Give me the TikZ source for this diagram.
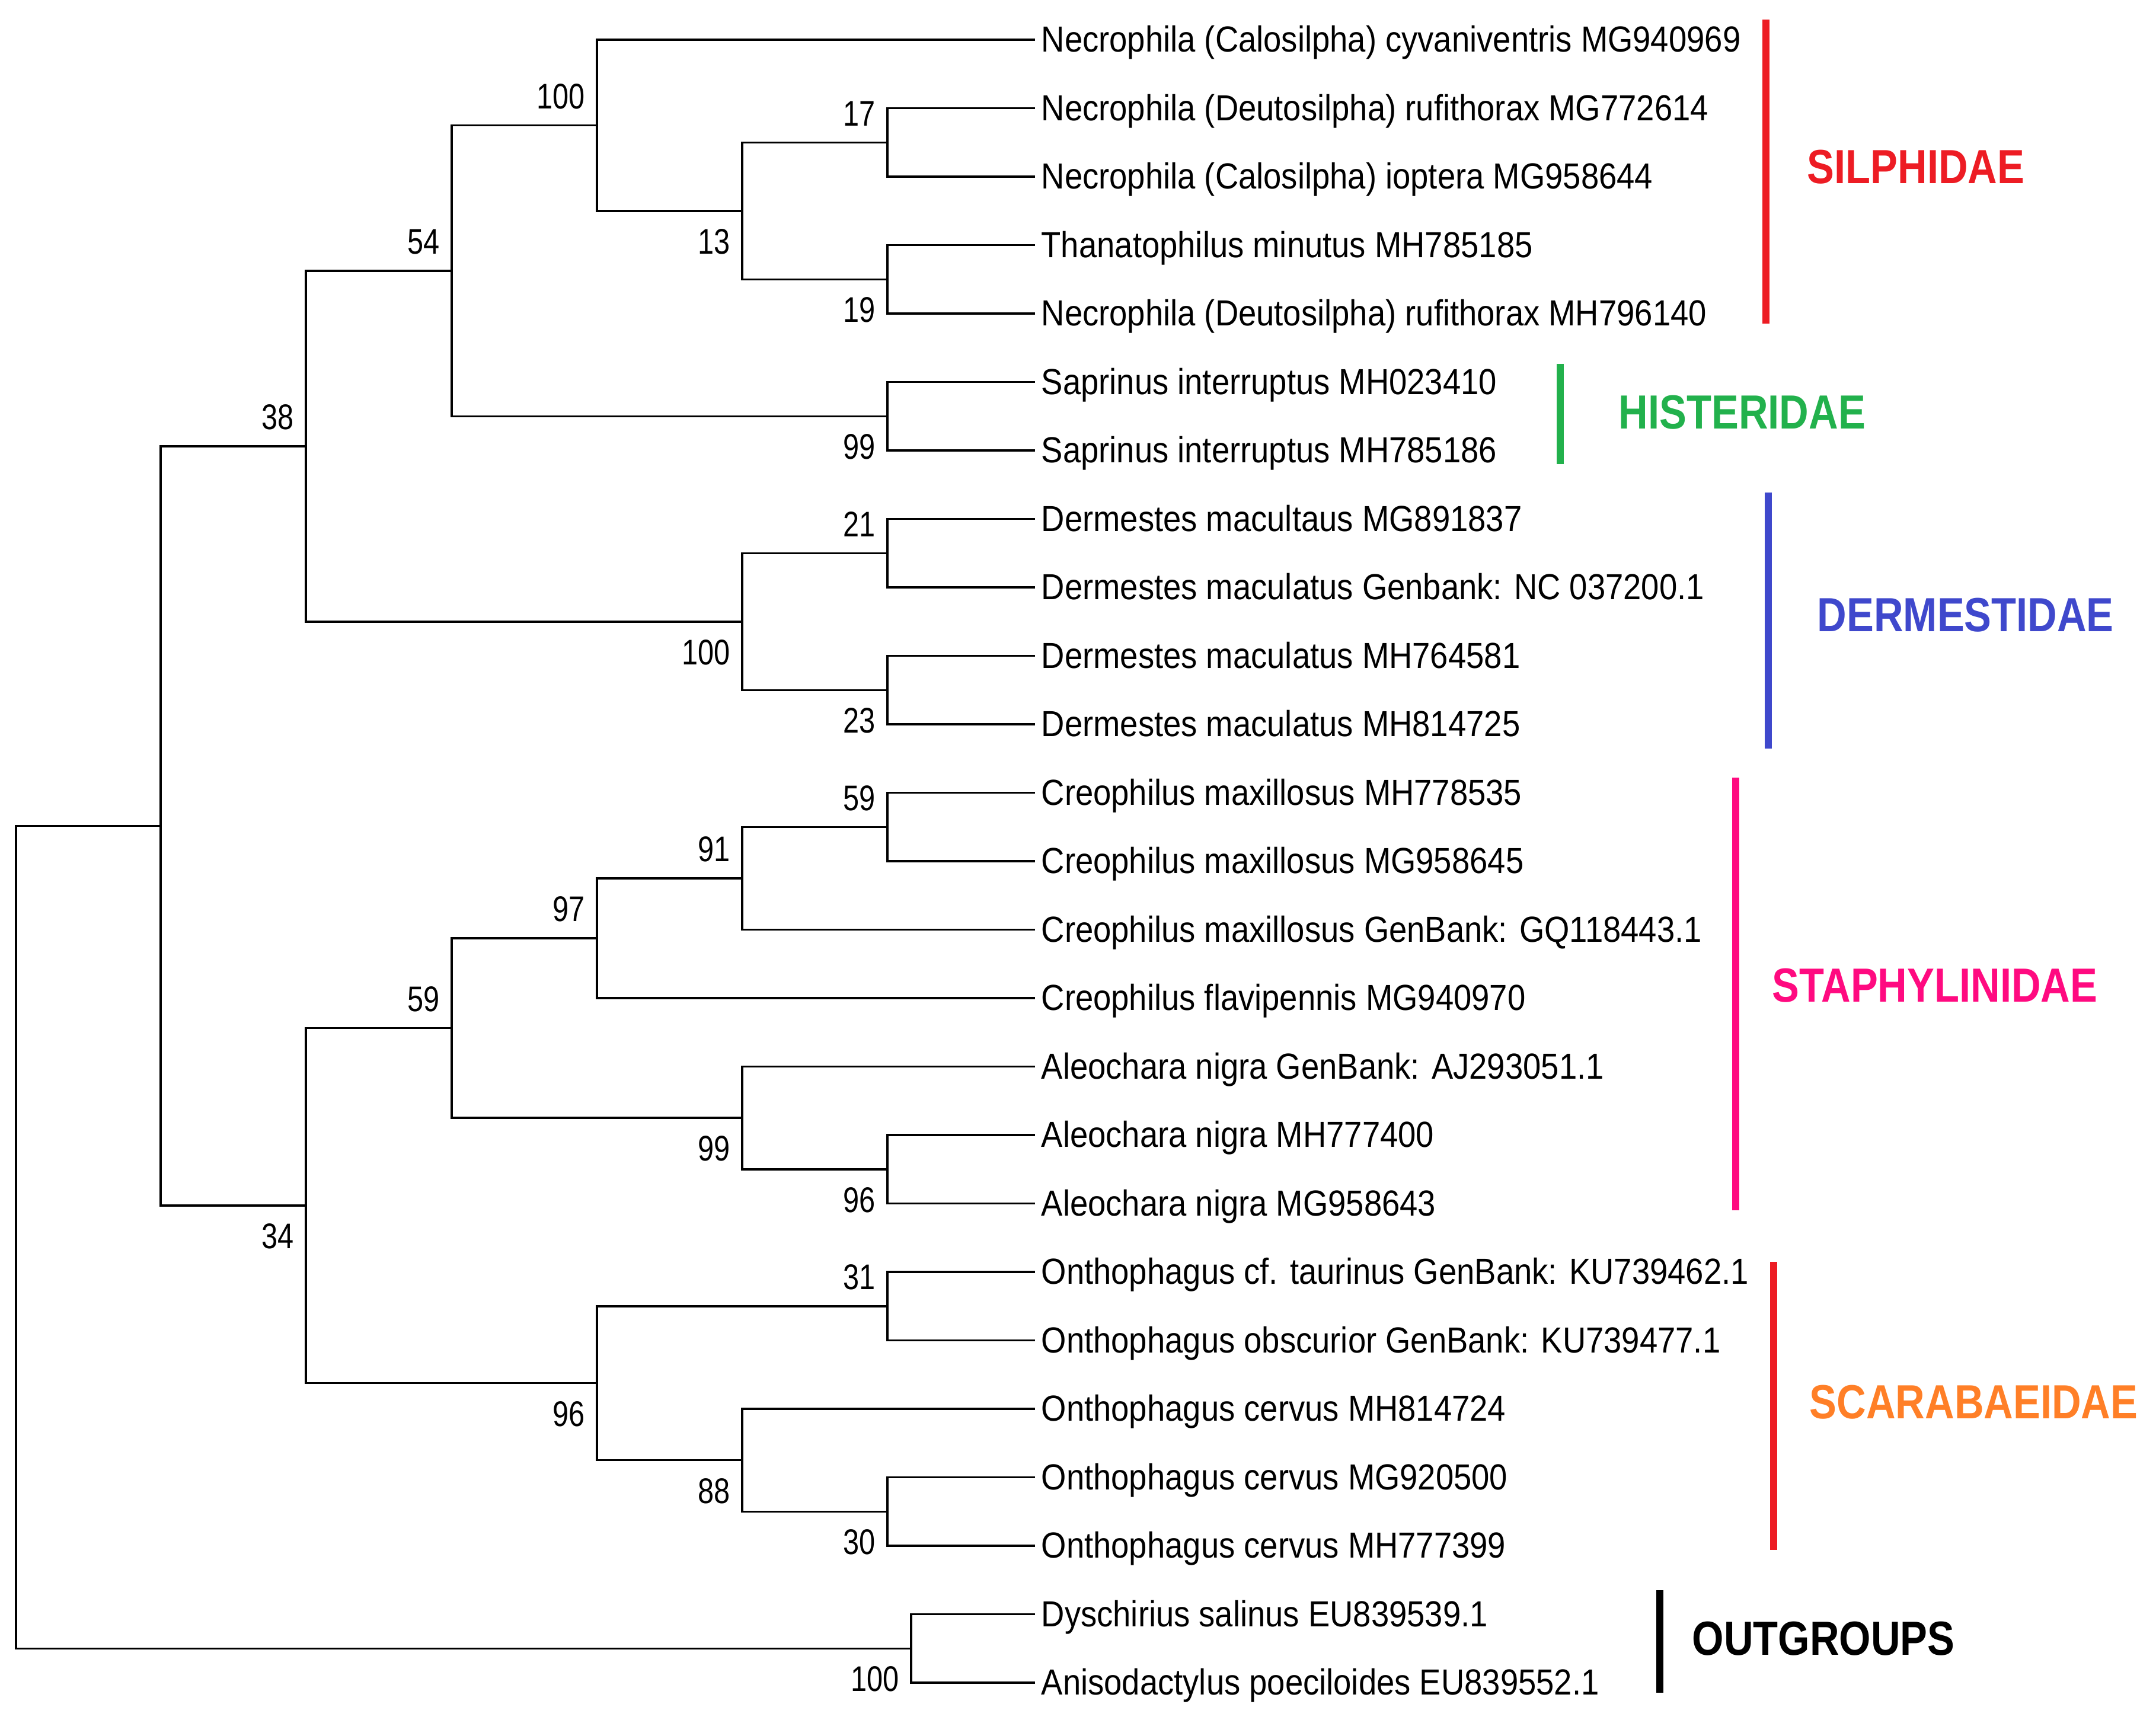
\documentclass[tikz,border=0pt]{standalone}
\usepackage{fontspec}
\setmainfont{Liberation Sans}
\newfontfamily\leaffont[FakeStretch=0.89]{Liberation Sans}
\newfontfamily\bootfont[FakeStretch=0.81]{Liberation Sans}
\newfontfamily\cladefont[FakeStretch=0.85]{Liberation Sans}
\definecolor{silphred}{HTML}{ED1C24}
\definecolor{histgreen}{HTML}{22B14C}
\definecolor{dermblue}{HTML}{3F48CC}
\definecolor{staphpink}{HTML}{FF0A80}
\definecolor{scaraborange}{HTML}{FF7F27}
\tikzset{
  branch/.style={line width=0.035cm},
  leaf/.style={anchor=west, inner xsep=0.1cm, inner ysep=0pt,
    text height=0.616cm, text depth=0.2cm,
    font=\leaffont\fontsize{17.4}{20}\selectfont},
  boot up/.style={anchor=south east, inner sep=0pt, xshift=-0.2cm, yshift=0.27cm,
    font=\bootfont\fontsize{17.1}{20}\selectfont},
  boot down/.style={anchor=north east, inner sep=0pt, xshift=-0.2cm, yshift=-0.3cm,
    font=\bootfont\fontsize{17.1}{20}\selectfont},
  cladebar/.style={line width=0.12cm},
  cladename/.style={anchor=west, inner sep=0pt,
    font=\cladefont\bfseries\fontsize{23}{26}\selectfont},
}
\begin{document}
\begin{tikzpicture}
                \useasboundingbox (0,0) rectangle (36.37,-29.02);
                
                % Placing leaves
                \node [leaf] (cyv)   at (17.46,-0.670)  {Necrophila (Calosilpha) cyvaniventris MG940969};
                \node [leaf] (rufa)  at (17.46,-1.825)  {Necrophila (Deutosilpha) rufithorax MG772614};
                \node [leaf] (iop)   at (17.46,-2.980)  {Necrophila (Calosilpha) ioptera MG958644};
                \node [leaf] (tmin)  at (17.46,-4.135)  {Thanatophilus minutus MH785185};
                \node [leaf] (rufb)  at (17.46,-5.290)  {Necrophila (Deutosilpha) rufithorax MH796140};
                \node [leaf] (sapa)  at (17.46,-6.445)  {Saprinus interruptus MH023410};
                \node [leaf] (sapb)  at (17.46,-7.600)  {Saprinus interruptus MH785186};
                \node [leaf] (derma) at (17.46,-8.755)  {Dermestes macultaus MG891837};
                \node [leaf] (dermb) at (17.46,-9.910)  {Dermestes maculatus Genbank: NC 037200.1};
                \node [leaf] (dermc) at (17.46,-11.065) {Dermestes maculatus MH764581};
                \node [leaf] (dermd) at (17.46,-12.220) {Dermestes maculatus MH814725};
                \node [leaf] (crea)  at (17.46,-13.375) {Creophilus maxillosus MH778535};
                \node [leaf] (creb)  at (17.46,-14.530) {Creophilus maxillosus MG958645};
                \node [leaf] (crec)  at (17.46,-15.685) {Creophilus maxillosus GenBank: GQ118443.1};
                \node [leaf] (cfla)  at (17.46,-16.840) {Creophilus flavipennis MG940970};
                \node [leaf] (alea)  at (17.46,-17.995) {Aleochara nigra GenBank: AJ293051.1};
                \node [leaf] (aleb)  at (17.46,-19.150) {Aleochara nigra MH777400};
                \node [leaf] (alec)  at (17.46,-20.305) {Aleochara nigra MG958643};
                \node [leaf] (otau)  at (17.46,-21.460) {Onthophagus cf. taurinus GenBank: KU739462.1};
                \node [leaf] (oobs)  at (17.46,-22.615) {Onthophagus obscurior GenBank: KU739477.1};
                \node [leaf] (ocea)  at (17.46,-23.770) {Onthophagus cervus MH814724};
                \node [leaf] (oceb)  at (17.46,-24.925) {Onthophagus cervus MG920500};
                \node [leaf] (ocec)  at (17.46,-26.080) {Onthophagus cervus MH777399};
                \node [leaf] (dysc)  at (17.46,-27.235) {Dyschirius salinus EU839539.1};
                \node [leaf] (anis)  at (17.46,-28.390) {Anisodactylus poeciloides EU839552.1};
                
                % Placing inner nodes
                \coordinate (nroot)  at (0.27,-20.873);
                \coordinate (ningr)  at (2.71,-13.934);
                \coordinate (nthree) at (5.16,-7.528);
                \coordinate (nfour)  at (5.16,-20.341);
                \coordinate (nsilhi) at (7.62,-4.568);
                \coordinate (nstaph) at (7.62,-17.345);
                \coordinate (nsilph) at (10.07,-2.114);
                \coordinate (ncreo)  at (10.07,-15.829);
                \coordinate (nscar)  at (10.07,-23.337);
                \coordinate (nnecro) at (12.52,-3.558);
                \coordinate (nderm)  at (12.52,-10.488);
                \coordinate (nmaxi)  at (12.52,-14.819);
                \coordinate (naleo)  at (12.52,-18.861);
                \coordinate (ncerv)  at (12.52,-24.636);
                \coordinate (nrufa)  at (14.97,-2.403);
                \coordinate (nrufb)  at (14.97,-4.713);
                \coordinate (nsapr)  at (14.97,-7.023);
                \coordinate (ndera)  at (14.97,-9.333);
                \coordinate (nderb)  at (14.97,-11.643);
                \coordinate (nmaxa)  at (14.97,-13.953);
                \coordinate (nalen)  at (14.97,-19.728);
                \coordinate (nonth)  at (14.97,-22.038);
                \coordinate (ncerb)  at (14.97,-25.503);
                \coordinate (nout)   at (15.37,-27.813);
                
                % Drawing branches
                \draw [branch] (nroot) |- (ningr);
                \draw [branch] (nroot) |- (nout);
                \draw [branch] (ningr) |- (nthree);
                \draw [branch] (ningr) |- (nfour);
                \draw [branch] (nthree) |- (nsilhi);
                \draw [branch] (nthree) |- (nderm);
                \draw [branch] (nsilhi) |- (nsilph);
                \draw [branch] (nsilhi) |- (nsapr);
                \draw [branch] (nsilph) |- (cyv.west);
                \draw [branch] (nsilph) |- (nnecro);
                \draw [branch] (nnecro) |- (nrufa);
                \draw [branch] (nnecro) |- (nrufb);
                \draw [branch] (nrufa) |- (rufa.west);
                \draw [branch] (nrufa) |- (iop.west);
                \draw [branch] (nrufb) |- (tmin.west);
                \draw [branch] (nrufb) |- (rufb.west);
                \draw [branch] (nsapr) |- (sapa.west);
                \draw [branch] (nsapr) |- (sapb.west);
                \draw [branch] (nderm) |- (ndera);
                \draw [branch] (nderm) |- (nderb);
                \draw [branch] (ndera) |- (derma.west);
                \draw [branch] (ndera) |- (dermb.west);
                \draw [branch] (nderb) |- (dermc.west);
                \draw [branch] (nderb) |- (dermd.west);
                \draw [branch] (nfour) |- (nstaph);
                \draw [branch] (nfour) |- (nscar);
                \draw [branch] (nstaph) |- (ncreo);
                \draw [branch] (nstaph) |- (naleo);
                \draw [branch] (ncreo) |- (nmaxi);
                \draw [branch] (ncreo) |- (cfla.west);
                \draw [branch] (nmaxi) |- (nmaxa);
                \draw [branch] (nmaxi) |- (crec.west);
                \draw [branch] (nmaxa) |- (crea.west);
                \draw [branch] (nmaxa) |- (creb.west);
                \draw [branch] (naleo) |- (alea.west);
                \draw [branch] (naleo) |- (nalen);
                \draw [branch] (nalen) |- (aleb.west);
                \draw [branch] (nalen) |- (alec.west);
                \draw [branch] (nscar) |- (nonth);
                \draw [branch] (nscar) |- (ncerv);
                \draw [branch] (nonth) |- (otau.west);
                \draw [branch] (nonth) |- (oobs.west);
                \draw [branch] (ncerv) |- (ocea.west);
                \draw [branch] (ncerv) |- (ncerb);
                \draw [branch] (ncerb) |- (oceb.west);
                \draw [branch] (ncerb) |- (ocec.west);
                \draw [branch] (nout) |- (dysc.west);
                \draw [branch] (nout) |- (anis.west);
                
                % Marking bootstrap values
                \node [boot up]   (bsilph) at (nsilph) {100};
                \node [boot up]   (brufa)  at (nrufa)  {17};
                \node [boot down] (bnecro) at (nnecro) {13};
                \node [boot down] (brufb)  at (nrufb)  {19};
                \node [boot up]   (bsilhi) at (nsilhi) {54};
                \node [boot down] (bsapr)  at (nsapr)  {99};
                \node [boot up]   (bthree) at (nthree) {38};
                \node [boot up]   (bdera)  at (ndera)  {21};
                \node [boot down] (bderm)  at (nderm)  {100};
                \node [boot down] (bderb)  at (nderb)  {23};
                \node [boot up]   (bmaxa)  at (nmaxa)  {59};
                \node [boot up]   (bmaxi)  at (nmaxi)  {91};
                \node [boot up]   (bcreo)  at (ncreo)  {97};
                \node [boot up]   (bstaph) at (nstaph) {59};
                \node [boot down] (baleo)  at (naleo)  {99};
                \node [boot down] (balen)  at (nalen)  {96};
                \node [boot down] (bfour)  at (nfour)  {34};
                \node [boot up]   (bonth)  at (nonth)  {31};
                \node [boot down] (bscar)  at (nscar)  {96};
                \node [boot down] (bcerv)  at (ncerv)  {88};
                \node [boot down] (bcerb)  at (ncerb)  {30};
                \node [boot down] (bout)   at (nout)   {100};
                
                % Marking families by bars
                \draw [cladebar, silphred] (29.79,-0.33) -- (29.79,-5.46);
                \node [cladename, text=silphred] (lsilph) at (30.48,-2.82) {SILPHIDAE};
                \draw [cladebar, histgreen] (26.32,-6.14) -- (26.32,-7.83);
                \node [cladename, text=histgreen] (lhist) at (27.30,-6.96) {HISTERIDAE};
                \draw [cladebar, dermblue] (29.83,-8.31) -- (29.83,-12.63);
                \node [cladename, text=dermblue] (lderm) at (30.65,-10.38) {DERMESTIDAE};
                \draw [cladebar, staphpink] (29.28,-13.12) -- (29.28,-20.42);
                \node [cladename, text=staphpink] (lstaph) at (29.89,-16.63) {STAPHYLINIDAE};
                \draw [cladebar, silphred] (29.92,-21.29) -- (29.92,-26.15);
                \node [cladename, text=scaraborange] (lscar) at (30.52,-23.66) {SCARABAEIDAE};
                \draw [cladebar, black] (28.00,-26.83) -- (28.00,-28.56);
                \node [cladename, text=black] (lout) at (28.54,-27.65) {OUTGROUPS};
\end{tikzpicture}
\end{document}
